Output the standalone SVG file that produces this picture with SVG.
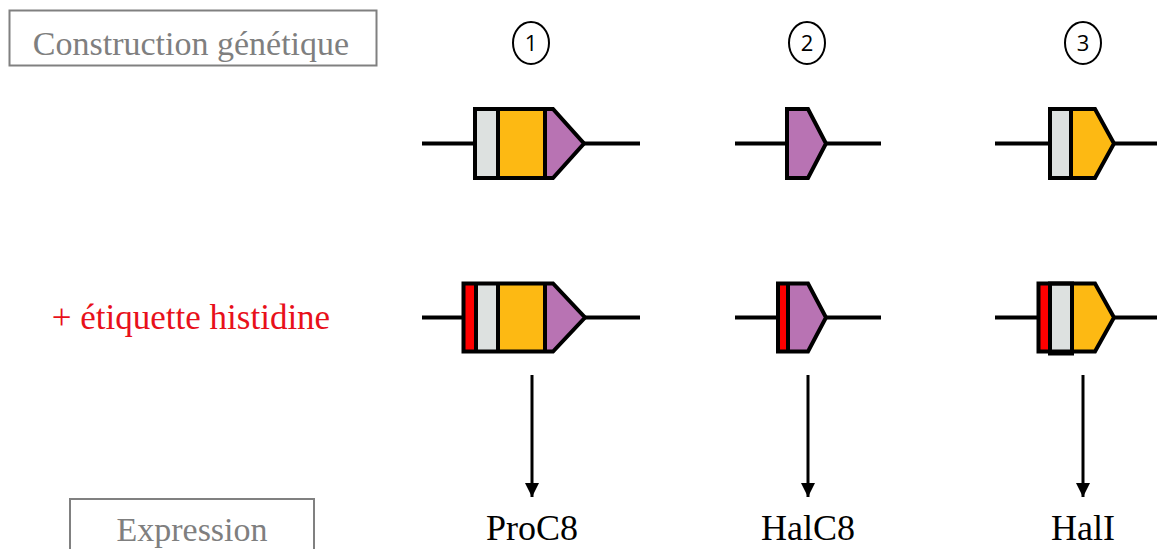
<svg xmlns="http://www.w3.org/2000/svg" width="1157" height="549" viewBox="0 0 1157 549">
<style>
.lbl{fill:none;stroke:#808080;stroke-width:2}
.serif{font-family:"Liberation Serif","Times New Roman",serif}
.ring{fill:none;stroke:#000;stroke-width:2}
.wire{stroke:#000;stroke-width:4}
.out{fill:none;stroke:#000;stroke-width:4;stroke-linejoin:miter}
.div{stroke:#000;stroke-width:4}
.gr{fill:#dde1e0}
.or{fill:#fdb913}
.pu{fill:#b873b3}
.rd{fill:#ff0000}
.arr{stroke:#000;stroke-width:3}
</style>
<defs>
<marker id="ah" viewBox="0 0 10 10" refX="10" refY="5" markerWidth="14" markerHeight="14" markerUnits="userSpaceOnUse" orient="auto">
<path d="M0,0 L10,5 L0,10 Z" fill="#000"/>
</marker>
</defs>
<rect width="1157" height="549" fill="#fff"/>

<g id="box-construction">
<rect class="lbl" x="9.5" y="10.5" width="367" height="55"/>
<text class="serif" x="191" y="55" font-family="'Liberation Serif', 'Times New Roman', serif" font-size="34" fill="#7f7f7f" text-anchor="middle">Construction génétique</text>
</g>
<g id="box-expression">
<rect class="lbl" x="70" y="499" width="244" height="60"/>
<text class="serif" x="192" y="541" font-family="'Liberation Serif', 'Times New Roman', serif" font-size="34" fill="#7f7f7f" text-anchor="middle">Expression</text>
</g>
<g id="tag-histidine">
<text class="serif" x="191" y="329" font-family="'Liberation Serif', 'Times New Roman', serif" font-size="35" fill="#e8101a" text-anchor="middle">+ étiquette histidine</text>
</g>

<g id="num1"><ellipse class="ring" cx="531" cy="43" rx="18" ry="21"/><text x="531" y="51" font-family="'Open Sans', 'Liberation Sans', sans-serif" font-size="22" fill="#000" text-anchor="middle">1</text></g>
<g id="num2"><ellipse class="ring" cx="807" cy="43" rx="18" ry="21"/><text x="807" y="51" font-family="'Open Sans', 'Liberation Sans', sans-serif" font-size="22" fill="#000" text-anchor="middle">2</text></g>
<g id="num3"><ellipse class="ring" cx="1083" cy="43" rx="18" ry="21"/><text x="1083" y="51" font-family="'Open Sans', 'Liberation Sans', sans-serif" font-size="22" fill="#000" text-anchor="middle">3</text></g>

<g id="c1-top">
<line class="wire" x1="422" y1="143.5" x2="640" y2="143.5"/>
<polygon class="pu" points="475,109 553,109 584,143.5 553,178 475,178"/>
<rect class="or" x="498" y="109" width="47" height="69"/>
<rect class="gr" x="475" y="109" width="23" height="69"/>
<polygon class="out" points="475,109 553,109 584,143.5 553,178 475,178"/>
<line class="div" x1="498" y1="109" x2="498" y2="178"/>
<line class="div" x1="545" y1="109" x2="545" y2="178"/>
</g>
<g id="c2-top">
<line class="wire" x1="735" y1="143.5" x2="881" y2="143.5"/>
<polygon class="out" style="fill:#b873b3" points="787,109 808,109 826,143.5 808,178 787,178"/>
</g>
<g id="c3-top">
<line class="wire" x1="995" y1="143.5" x2="1157" y2="143.5"/>
<polygon class="or" points="1050,109 1095,109 1114,143.5 1095,178 1050,178"/>
<rect class="gr" x="1050" y="109" width="21" height="69"/>
<polygon class="out" points="1050,109 1095,109 1114,143.5 1095,178 1050,178"/>
<line class="div" x1="1071" y1="109" x2="1071" y2="178"/>
</g>

<g id="c1-his">
<line class="wire" x1="422" y1="317.5" x2="640" y2="317.5"/>
<polygon class="pu" points="463.5,283.5 553,283.5 585,317.5 553,351.5 463.5,351.5"/>
<rect class="or" x="498" y="283.5" width="47" height="68"/>
<rect class="gr" x="476" y="283.5" width="22" height="68"/>
<rect class="rd" x="463.5" y="283.5" width="12.5" height="68"/>
<polygon class="out" points="463.5,283.5 553,283.5 585,317.5 553,351.5 463.5,351.5"/>
<line class="div" x1="476" y1="283.5" x2="476" y2="351.5"/>
<line class="div" x1="498" y1="283.5" x2="498" y2="351.5"/>
<line class="div" x1="545" y1="283.5" x2="545" y2="351.5"/>
</g>
<g id="c2-his">
<line class="wire" x1="735" y1="317.5" x2="881" y2="317.5"/>
<polygon class="pu" points="778,283.5 808,283.5 826,317.5 808,351.5 778,351.5"/>
<rect class="rd" x="778" y="283.5" width="10" height="68"/>
<polygon class="out" points="778,283.5 808,283.5 826,317.5 808,351.5 778,351.5"/>
<line class="div" x1="788" y1="283.5" x2="788" y2="351.5"/>
</g>
<g id="c3-his">
<line class="wire" x1="995" y1="317.5" x2="1157" y2="317.5"/>
<polygon class="or" points="1038.5,283.5 1095,283.5 1114,317.5 1095,351.5 1038.5,351.5"/>
<rect class="rd" x="1038.5" y="283.5" width="11.5" height="68"/>
<rect class="gr" x="1050" y="283.5" width="22" height="70" style="stroke:#000;stroke-width:4"/>
<polygon class="out" points="1038.5,283.5 1095,283.5 1114,317.5 1095,351.5 1038.5,351.5"/>
</g>

<g id="connectors">
<line class="arr" x1="532" y1="375" x2="532" y2="497" marker-end="url(#ah)"/>
<line class="arr" x1="808" y1="375" x2="808" y2="497" marker-end="url(#ah)"/>
<line class="arr" x1="1083" y1="375" x2="1083" y2="497" marker-end="url(#ah)"/>
</g>

<g id="out1"><text class="serif" x="532" y="540" font-family="'Liberation Serif', 'Times New Roman', serif" font-size="36" fill="#000" text-anchor="middle">ProC8</text></g>
<g id="out2"><text class="serif" x="808" y="540" font-family="'Liberation Serif', 'Times New Roman', serif" font-size="36" fill="#000" text-anchor="middle">HalC8</text></g>
<g id="out3"><text class="serif" x="1083" y="540" font-family="'Liberation Serif', 'Times New Roman', serif" font-size="36" fill="#000" text-anchor="middle">HalI</text></g>
</svg>
